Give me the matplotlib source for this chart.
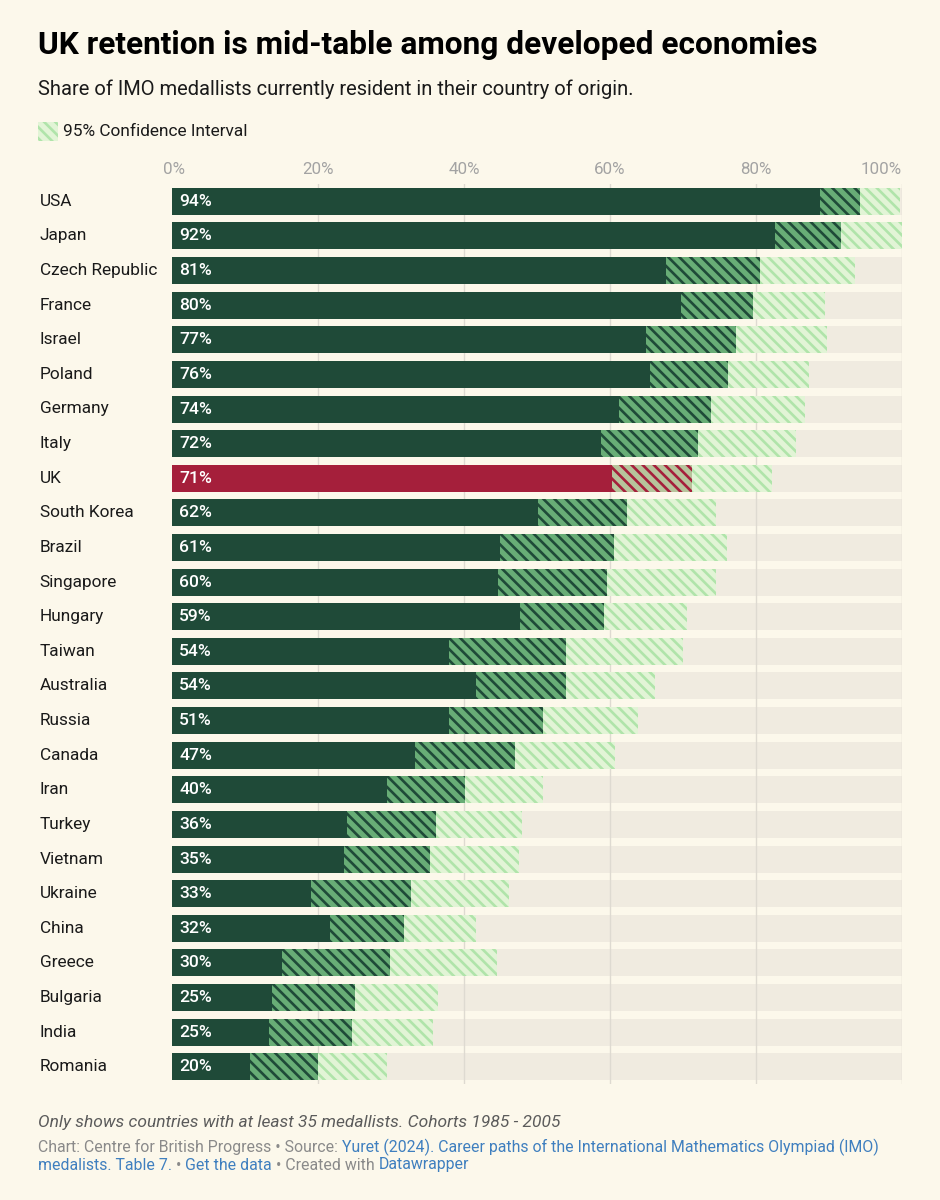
import matplotlib
matplotlib.use("Agg")
import matplotlib.pyplot as plt
import numpy as np

# data (share resident in country of origin, %)
countries = ["USA", "Japan", "Czech Republic", "France", "Israel", "Poland", "Germany",
             "Italy", "UK", "South Korea", "Brazil", "Singapore", "Hungary", "Taiwan",
             "Australia", "Russia", "Canada", "Iran", "Turkey", "Vietnam", "Ukraine",
             "China", "Greece", "Bulgaria", "India", "Romania"]
values = [94.2, 91.6, 80.6, 79.6, 77.3, 76.2, 73.8, 72.0, 71.2, 62.3, 60.6, 59.6, 59.2,
          54.0, 54.0, 50.8, 47.0, 40.1, 36.1, 35.4, 32.7, 31.8, 29.8, 25.0, 24.6, 20.0]
ci_low = [88.8, 82.6, 67.7, 69.7, 64.9, 65.5, 61.2, 58.7, 60.3, 50.2, 44.9, 44.7, 47.7,
          37.9, 41.6, 37.9, 33.3, 29.5, 24.0, 23.6, 19.0, 21.6, 15.0, 13.7, 13.3, 10.7]
ci_high = [99.7, 100.0, 93.6, 89.5, 89.7, 87.3, 86.7, 85.5, 82.2, 74.5, 76.0, 74.5, 70.6,
           70.0, 66.2, 63.9, 60.7, 50.8, 48.0, 47.5, 46.1, 41.7, 44.5, 36.4, 35.7, 29.4]
highlight = "UK"
ticks = [0, 20, 40, 60, 80, 100]

W, H = 940, 1200
BG = "#fcf8eb"
TRACK = "#f0ebe0"
DARK = "#1f4a38"
MID = "#68ad76"
LIGHT = "#b0e4aa"
PALE = "#e2f4d6"
RED = "#a51f3b"
RED_HATCH = "#b7c49c"

plt.rcParams["font.family"] = ["Roboto", "DejaVu Sans"]
plt.rcParams["hatch.linewidth"] = 1.9

fig = plt.figure(figsize=(W / 100, H / 100), dpi=100, facecolor=BG)


def fx(x):
    return x / W


def fy(y):
    return 1 - y / H


ax = fig.add_axes([fx(172), fy(1084), 730 / W, 900 / H])
ax.set_facecolor(BG)
n = len(countries)
ypos = np.arange(n)
bh = 0.78
row_px = 900 / n

# background track
ax.barh(ypos, [100] * n, height=bh, color=TRACK, zorder=1)
# vertical grid
for t in ticks[1:]:
    ax.axvline(t, color="#dedad1", lw=1, zorder=2)

for i, c in enumerate(countries):
    solid = RED if c == highlight else DARK
    ax.barh(i, ci_low[i], height=bh, color=solid, lw=0, zorder=3)
    if c == highlight:
        ax.barh(i, values[i] - ci_low[i], left=ci_low[i], height=bh, facecolor=RED_HATCH,
                edgecolor=RED, hatch="\\\\\\", lw=0, zorder=3)
    else:
        ax.barh(i, values[i] - ci_low[i], left=ci_low[i], height=bh, facecolor=MID,
                edgecolor=DARK, hatch="\\\\\\", lw=0, zorder=3)
    ax.barh(i, ci_high[i] - values[i], left=values[i], height=bh, facecolor=PALE,
            edgecolor=LIGHT, hatch="\\\\\\", lw=0, zorder=3)
    ax.text(0.96, i, f"{round(values[i])}%", color="white", fontsize=12.6, fontweight="medium",
            va="center", ha="left", zorder=5)

ax.set_xlim(0, 100)
ax.set_ylim(n - 0.5, -0.5)
ax.set_yticks([])
ax.set_xticks([])
for s in ax.spines.values():
    s.set_visible(False)

# tick labels on top
tick_y = -0.5 - (184 - 170) / row_px
for t in ticks:
    ha = "left" if t == 0 else ("right" if t == 100 else "center")
    xx = t if 0 < t < 100 else (-1.3 if t == 0 else 100)
    ax.text(xx, tick_y, f"{t}%", color="#a3a3a3", fontsize=12.2, ha=ha, va="center",
            clip_on=False)

# country labels
for i, c in enumerate(countries):
    ax.text(-18.1, i, c, fontsize=12.4, color="#1a1a1a", va="center", ha="left", clip_on=False)

# titles
fig.text(fx(38), fy(45), "UK retention is mid-table among developed economies",
         fontsize=22.8, fontweight="bold", color="#000000", va="center")
fig.text(fx(38), fy(89), "Share of IMO medallists currently resident in their country of origin.",
         fontsize=14.5, color="#1a1a1a", va="center")

# legend
lax = fig.add_axes([fx(38), fy(141), 20 / W, 19 / H])
lax.bar([0], [1], width=1, facecolor=PALE, edgecolor=LIGHT, hatch="\\\\\\", lw=0)
lax.set_xlim(-0.5, 0.5)
lax.set_ylim(0, 1)
lax.axis("off")
fig.text(fx(63), fy(131), "95% Confidence Interval", fontsize=12.4, color="#1a1a1a", va="center")

# footer
fig.text(fx(38), fy(1122), "Only shows countries with at least 35 medallists. Cohorts 1985 - 2005",
         fontsize=12.5, style="italic", color="#5b5b5b", va="center")

GREY = "#8a8a8a"
BLUE = "#3f7fbf"
renderer = fig.canvas.get_renderer()


def run_text(x, y, pieces, size=11.4):
    for txt, col in pieces:
        t = fig.text(fx(x), fy(y), txt, fontsize=size, color=col, va="center")
        bb = t.get_window_extent(renderer)
        x += bb.width


run_text(38, 1147, [("Chart: Centre for British Progress • Source: ", GREY),
                    ("Yuret (2024). Career paths of the International Mathematics Olympiad (IMO)", BLUE)])
run_text(38, 1165, [("medalists. Table 7.", BLUE), (" • ", GREY), ("Get the data", BLUE),
                    (" • Created with ", GREY), ("Datawrapper", BLUE)])

fig.savefig("out.png", dpi=100, facecolor=BG)
